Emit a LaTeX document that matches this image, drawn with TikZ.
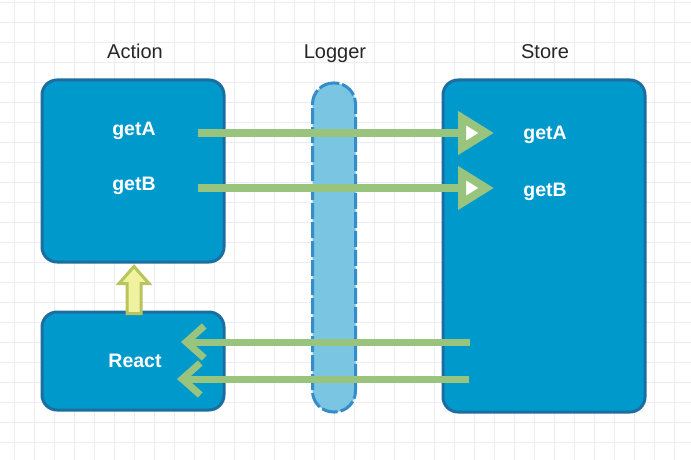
\documentclass[tikz,border=0pt]{standalone}
\usepackage{fontspec}
\setmainfont{Liberation Sans}
\usetikzlibrary{positioning, arrows.meta, calc}

\definecolor{boxblue}{RGB}{0,153,204}
\definecolor{boxline}{RGB}{28,110,160}
\definecolor{logfill}{RGB}{122,197,225}
\definecolor{logline}{RGB}{52,140,200}
\definecolor{flowgreen}{RGB}{152,196,126}
\definecolor{upfill}{RGB}{240,242,160}
\definecolor{upline}{RGB}{186,196,92}
\definecolor{gridline}{RGB}{236,236,248}

\tikzstyle{box}=[
  rectangle,
  rounded corners=15pt,
  fill=boxblue,
  draw=boxline,
  line width=3pt
]
\tikzstyle{title}=[
  anchor=base,
  font={\fontsize{20pt}{24pt}\selectfont},
  text=black!85
]
\tikzstyle{call}=[
  font={\fontsize{19.5pt}{22pt}\selectfont\bfseries},
  text=white
]
\tikzstyle{fwd}=[
  draw=flowgreen,
  line width=8pt,
  -{Triangle[length=36pt, width=42pt, fill=white]}
]
\tikzstyle{back}=[
  draw=flowgreen,
  line width=7pt,
  -{Straight Barb[length=18pt, width=32pt]}
]

\begin{document}
\begin{tikzpicture}[x=1pt, y=-1pt]

\useasboundingbox[fill=white] (0,0) rectangle (691,460);

%% grid
\foreach \gx in {14,34,...,694}
  \draw[gridline, line width=0.7pt] (\gx,0) -- (\gx,460);
\foreach \gy in {2,22,...,462}
  \draw[gridline, line width=0.7pt] (0,\gy) -- (691,\gy);

%% titles
\node[title] (tact) at (135,59) {Action};
\node[title] (tlog) at (335,59) {Logger};
\node[title] (tsto) at (545,59) {Store};

%% boxes
\node[box, minimum width=182pt, minimum height=182pt] (action) at (133,171) {};
\node[box, minimum width=182pt, minimum height=98pt] (react) at (133,361) {};
\node[box, minimum width=202pt, minimum height=332pt] (store) at (544,246) {};

\node[rectangle, rounded corners=21pt, fill=logfill, draw=logline,
      line width=3pt, dash pattern=on 16pt off 3pt,
      minimum width=43pt, minimum height=329pt] (logger) at (334,247.5) {};

%% calls
\node[call] (agetA) at (134,131) {getA};
\node[call] (agetB) at (134,186) {getB};
\node[call] (sgetA) at (545,135) {getA};
\node[call] (sgetB) at (545,192) {getB};
\node[call] (rtext) at (135,361) {React};

%% arrow ends
\coordinate (fa1) at (198,133);
\coordinate (ta1) at (494,133);
\coordinate (fa2) at (198,188);
\coordinate (ta2) at (494,188);
\coordinate (fb1) at (470,342);
\coordinate (tb1) at (181,342);
\coordinate (fb2) at (469,379);
\coordinate (tb2) at (177,379);

\draw[fwd] (fa1) -- (ta1);
\draw[fwd] (fa2) -- (ta2);
\draw[back] (fb1) -- (tb1);
\draw[back] (fb2) -- (tb2);

%% up arrow
\coordinate (up) at ($(action.south)+(1,3)$);
\draw[fill=upfill, draw=upline, line width=3pt, line join=miter]
  (up) -- ++(15,17) -- ++(-8,0) -- ++(0,30) -- ++(-14,0)
  -- ++(0,-30) -- ++(-8,0) -- cycle;

\end{tikzpicture}
\end{document}
